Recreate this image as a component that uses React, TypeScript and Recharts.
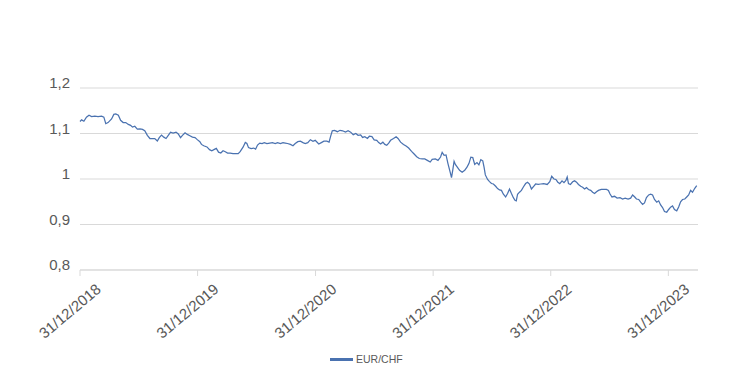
import React from 'react';
import { LineChart, Line, XAxis, YAxis, CartesianGrid, Legend } from 'recharts';

// Days elapsed since 31/12/2018 for each sampled observation
const dayOffsets: number[] = [
  0, 5, 12, 20, 28, 36, 46, 56, 67, 74, 80, 87, 98, 105, 111, 119, 126, 134, 142, 150, 157, 163, 170, 178, 186, 194, 201, 209, 217, 225, 232, 240, 246, 253, 260, 267, 274, 281, 289, 298, 305, 312, 318, 326, 333, 341, 349, 357, 364, 372, 377,
  384, 394, 402, 409, 417, 423, 430, 437, 444, 451, 458, 466, 475, 483, 491, 497, 506, 513, 518, 523, 531, 539, 545, 551, 558, 565, 572, 580, 589, 597, 606, 613, 622, 630, 637, 644, 653, 661, 668, 676, 684, 692, 699, 707, 715, 723, 730,
  741, 749, 757, 766, 773, 778, 783, 790, 799, 807, 815, 824, 832, 840, 848, 856, 863, 871, 877, 884, 892, 898, 906, 913, 921, 927, 933, 940, 946, 952, 958, 964, 973, 981, 987, 995, 1004, 1012, 1020, 1029, 1037, 1045, 1053, 1062, 1070, 1078, 1087, 1093,
  1103, 1111, 1119, 1124, 1130, 1136, 1142, 1149, 1153, 1157, 1161, 1165, 1171, 1178, 1186, 1194, 1201, 1207, 1213, 1219, 1225, 1232, 1238, 1244, 1250, 1254, 1258, 1265, 1271, 1277, 1283, 1290, 1296, 1302, 1308, 1314, 1321, 1327, 1333, 1339, 1345, 1350, 1354, 1358, 1364, 1370, 1376, 1383, 1389, 1395, 1401, 1408, 1414, 1422, 1430, 1439,
  1450, 1458, 1464, 1471, 1477, 1483, 1489, 1496, 1502, 1508, 1512, 1516, 1522, 1529, 1535, 1541, 1547, 1554, 1560, 1566, 1572, 1578, 1585, 1591, 1597, 1603, 1609, 1618, 1626, 1634, 1640, 1645, 1651, 1659, 1667, 1676, 1684, 1692, 1701, 1709, 1715, 1721, 1727, 1734, 1740, 1746, 1752, 1758, 1765, 1771, 1777, 1783, 1790, 1796, 1802, 1808, 1814, 1821, 1827, 1833, 1839, 1845, 1852, 1858, 1864, 1870, 1877, 1883, 1889, 1895, 1901, 1908, 1914,
];

const eurChf: number[] = [
  1.1265, 1.13, 1.127, 1.136, 1.14, 1.137, 1.138, 1.137, 1.138, 1.136, 1.1215, 1.124, 1.132, 1.142, 1.143, 1.14, 1.129, 1.124, 1.124, 1.12, 1.118, 1.114, 1.116, 1.1097, 1.11, 1.109, 1.106, 1.0958, 1.089, 1.089, 1.089, 1.0834, 1.091, 1.0965, 1.092, 1.089, 1.096, 1.103, 1.101, 1.103, 1.099, 1.091, 1.096, 1.1017, 1.098, 1.095, 1.092, 1.091, 1.0865, 1.082, 1.076,
  1.073, 1.0705, 1.0645, 1.062, 1.065, 1.0673, 1.059, 1.057, 1.062, 1.06, 1.057, 1.057, 1.0557, 1.0557, 1.0557, 1.06, 1.07, 1.0805, 1.078, 1.069, 1.067, 1.068, 1.0656, 1.0746, 1.079, 1.078, 1.08, 1.078, 1.079, 1.08, 1.078, 1.08, 1.078, 1.08, 1.079, 1.078, 1.076, 1.073, 1.078, 1.082, 1.083, 1.08, 1.078, 1.08, 1.0864, 1.083, 1.085,
  1.077, 1.08, 1.083, 1.083, 1.081, 1.0943, 1.106, 1.107, 1.104, 1.107, 1.106, 1.103, 1.106, 1.103, 1.0974, 1.1, 1.096, 1.097, 1.0914, 1.093, 1.089, 1.094, 1.093, 1.086, 1.085, 1.08, 1.077, 1.081, 1.076, 1.074, 1.079, 1.085, 1.089, 1.093, 1.089, 1.081, 1.076, 1.0724, 1.068, 1.0608, 1.055, 1.049, 1.045, 1.044, 1.044, 1.041, 1.0373, 1.043,
  1.044, 1.041, 1.0483, 1.0586, 1.052, 1.053, 1.0338, 1.0147, 1.003, 1.02, 1.039, 1.032, 1.026, 1.019, 1.0147, 1.019, 1.026, 1.0338, 1.048, 1.047, 1.032, 1.036, 1.031, 1.0426, 1.04, 1.026, 1.009, 0.999, 0.9943, 0.99, 0.989, 0.984, 0.979, 0.976, 0.975, 0.9665, 0.9605, 0.968, 0.978, 0.968, 0.959, 0.9533, 0.952, 0.9665, 0.971, 0.975, 0.9825, 0.99, 0.9928, 0.989, 0.978, 0.984, 0.989, 0.988, 0.989, 0.99,
  0.988, 0.9943, 1.006, 1.0, 0.999, 0.993, 0.99, 0.996, 0.992, 0.997, 1.0044, 0.99, 0.988, 0.994, 0.996, 0.993, 0.988, 0.984, 0.982, 0.978, 0.981, 0.977, 0.975, 0.971, 0.968, 0.972, 0.975, 0.977, 0.977, 0.977, 0.975, 0.967, 0.9605, 0.962, 0.958, 0.959, 0.956, 0.958, 0.956, 0.958, 0.965, 0.961, 0.956, 0.955, 0.949, 0.944, 0.9475, 0.959, 0.965, 0.9665, 0.965, 0.955, 0.949, 0.952, 0.943, 0.9373, 0.9285, 0.927, 0.933, 0.938, 0.941, 0.933, 0.93, 0.9386, 0.95, 0.955, 0.956, 0.9605, 0.965, 0.9752, 0.971, 0.9796, 0.9855,
];

const xTickDays: number[] = [0, 365, 731, 1096, 1461, 1826];
const xTickLabels: string[] = ['31/12/2018', '31/12/2019', '31/12/2020', '31/12/2021', '31/12/2022', '31/12/2023'];
const yTicks: number[] = [0.8, 0.9, 1.0, 1.1, 1.2];
const seriesName = 'EUR/CHF';

const data = dayOffsets.map((d, i) => ({ day: d, value: eurChf[i] }));

const FONT = '"Liberation Sans", Arial, sans-serif';
const TEXT = '#595959';
const LINE = '#4a72b0';

const XTick = (props: any) => {
  const { x, y, payload } = props;
  const idx = xTickDays.indexOf(payload.value);
  const ax = x + 22;
  const ay = y + 13;
  return (
    <text
      x={ax}
      y={ay}
      textAnchor="end"
      fontSize={15}
      fontFamily={FONT}
      fill={TEXT}
      transform={`rotate(-40, ${ax}, ${ay})`}
    >
      {idx >= 0 ? xTickLabels[idx] : ''}
    </text>
  );
};

const YTick = (props: any) => {
  const { x, y, payload } = props;
  const label = String(Math.round(payload.value * 10) / 10).replace('.', ',');
  return (
    <text x={x} y={y} textAnchor="end" fontSize={15} fontFamily={FONT} fill={TEXT}>
      {label}
    </text>
  );
};

const LegendContent = () => (
  <div style={{ display: 'flex', alignItems: 'center', fontFamily: FONT, fontSize: 10.5, color: TEXT }}>
    <span style={{ display: 'inline-block', width: 23, height: 3, background: LINE, marginRight: 3 }} />
    <span>{seriesName}</span>
  </div>
);

export default function App() {
  return (
    <div style={{ position: 'absolute', left: 0, top: 0, width: 742, height: 382, background: '#fff' }}>
      <LineChart width={742} height={382} data={data} margin={{ top: 88, right: 44, bottom: 42, left: 0 }}>
        <CartesianGrid vertical={false} stroke="#d9d9d9" strokeWidth={1} />
        <XAxis
          dataKey="day"
          type="number"
          domain={[0, 1918]}
          ticks={xTickDays}
          interval={0}
          height={70}
          tick={<XTick />}
          tickSize={6}
          tickMargin={2}
          axisLine={{ stroke: '#d9d9d9' }}
          tickLine={{ stroke: '#d9d9d9' }}
        />
        <YAxis
          type="number"
          domain={[0.8, 1.2]}
          ticks={yTicks}
          interval={0}
          width={80}
          axisLine={false}
          tickLine={false}
          tickSize={6}
          tickMargin={4}
          tick={<YTick />}
        />
        <Legend
          layout="horizontal"
          verticalAlign="middle"
          align="center"
          content={<LegendContent />}
          wrapperStyle={{ top: 353, left: 330, width: 'auto' }}
        />
        <Line
          type="linear"
          dataKey="value"
          name={seriesName}
          stroke={LINE}
          strokeWidth={1.25}
          dot={false}
          isAnimationActive={false}
        />
      </LineChart>
    </div>
  );
}
